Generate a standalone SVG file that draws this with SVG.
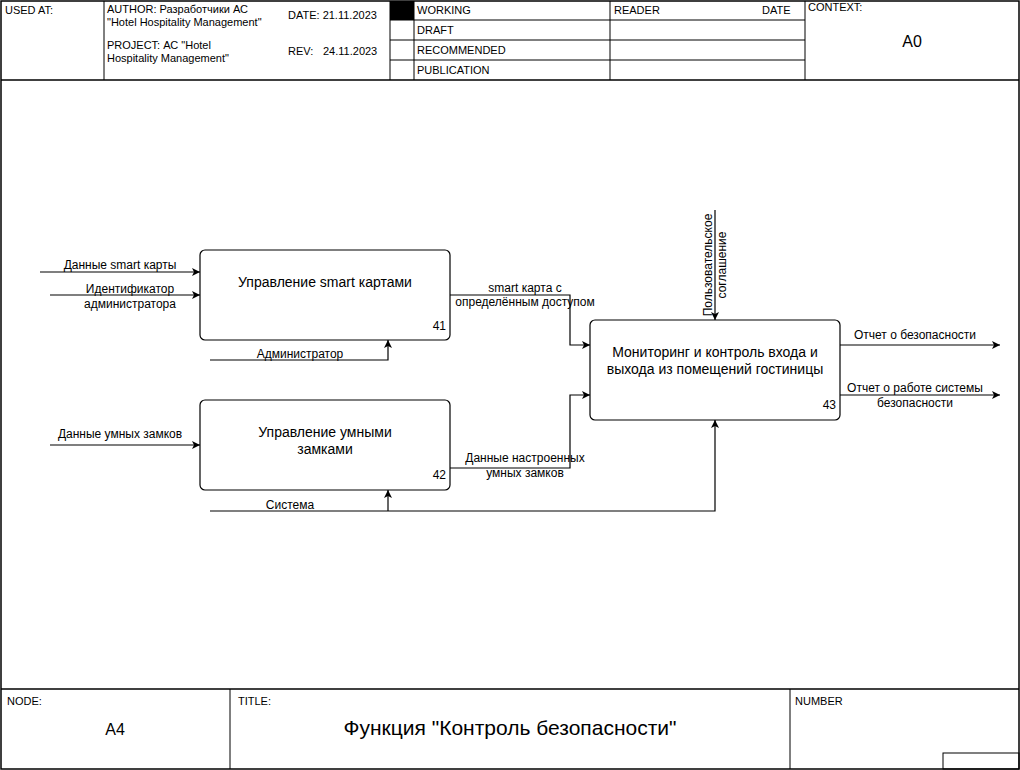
<svg xmlns="http://www.w3.org/2000/svg" width="1020" height="770" viewBox="0 0 1020 770">
<defs>
<marker id="ah" markerWidth="10" markerHeight="10" refX="9" refY="5" orient="auto" markerUnits="userSpaceOnUse">
<path d="M1,1 L9,5 L1,9 L3,5 Z" fill="#000"/>
</marker>
<style>
text{font-family:"Liberation Sans",Arial,sans-serif;fill:#000}
.h{font-size:11px}
.l{font-size:12px;text-anchor:middle}
.b{font-size:14px;text-anchor:middle}
.n{font-size:12px;text-anchor:end}
.frame{fill:none;stroke:#000;stroke-width:1.5}
.ln{stroke:#000;stroke-width:1;fill:none}
.box{fill:#fff;stroke:#000;stroke-width:1.2}
.c{fill:none;stroke:#000;stroke-width:1.2}
</style>
</defs>
<rect x="0" y="0" width="1020" height="770" fill="#fff"/>
<g id="frame">
<rect class="frame" x="1" y="1" width="1018" height="768"/>
<line class="frame" x1="1" y1="80" x2="1019" y2="80"/>
<line class="frame" x1="1" y1="689" x2="1019" y2="689"/>
<line class="ln" x1="104" y1="1" x2="104" y2="80"/>
<line class="ln" x1="390" y1="1" x2="390" y2="80"/>
<line class="ln" x1="414" y1="1" x2="414" y2="80"/>
<line class="ln" x1="610" y1="1" x2="610" y2="80"/>
<line class="ln" x1="805" y1="1" x2="805" y2="80"/>
<line class="ln" x1="390" y1="20" x2="805" y2="20"/>
<line class="ln" x1="390" y1="40" x2="805" y2="40"/>
<line class="ln" x1="390" y1="60" x2="805" y2="60"/>
<rect x="390" y="1" width="24" height="19" fill="#000"/>
<text class="h" x="5" y="14">USED AT:</text>
<text class="h" x="107" y="13">AUTHOR: Разработчики АС</text>
<text class="h" x="107" y="26">"Hotel Hospitality Management"</text>
<text class="h" x="288" y="19">DATE: 21.11.2023</text>
<text class="h" x="107" y="49">PROJECT: АС "Hotel</text>
<text class="h" x="107" y="62">Hospitality Management"</text>
<text class="h" x="288" y="55">REV:</text>
<text class="h" x="323" y="55">24.11.2023</text>
<text class="h" x="417" y="14">WORKING</text>
<text class="h" x="417" y="34">DRAFT</text>
<text class="h" x="417" y="54">RECOMMENDED</text>
<text class="h" x="417" y="74">PUBLICATION</text>
<text class="h" x="614" y="14">READER</text>
<text class="h" x="762" y="14">DATE</text>
<text class="h" x="808" y="11">CONTEXT:</text>
<text x="912" y="47" font-size="16" text-anchor="middle">A0</text>
<line class="ln" x1="230" y1="689" x2="230" y2="769"/>
<line class="ln" x1="790" y1="689" x2="790" y2="769"/>
<rect class="ln" x="943" y="753" width="76" height="16"/>
<text class="h" x="7" y="705">NODE:</text>
<text x="115" y="735" font-size="16" text-anchor="middle">A4</text>
<text class="h" x="238" y="705">TITLE:</text>
<text x="510" y="735" font-size="21" text-anchor="middle">Функция "Контроль безопасности"</text>
<text class="h" x="795" y="705">NUMBER</text>
</g>
<g id="connectors">
<path class="c" d="M40,272 H200" marker-end="url(#ah)"/>
<path class="c" d="M50,295 H200" marker-end="url(#ah)"/>
<path class="c" d="M210,360 H388 V340" marker-end="url(#ah)"/>
<path class="c" d="M450,295 H570 V345 H590" marker-end="url(#ah)"/>
<path class="c" d="M715,210 V320" marker-end="url(#ah)"/>
<path class="c" d="M840,345 H1000" marker-end="url(#ah)"/>
<path class="c" d="M840,395 H1000" marker-end="url(#ah)"/>
<path class="c" d="M50,445 H200" marker-end="url(#ah)"/>
<path class="c" d="M450,468 H570 V395 H590" marker-end="url(#ah)"/>
<path class="c" d="M210,511 H715 V420" marker-end="url(#ah)"/>
<path class="c" d="M388,511 V490" marker-end="url(#ah)"/>
<text class="l" x="120" y="269">Данные smart карты</text>
<text class="l" x="130" y="293">Идентификатор</text>
<text class="l" x="130" y="308">администратора</text>
<text class="l" x="300" y="358">Администратор</text>
<text class="l" x="525" y="292">smart карта с</text>
<text class="l" x="525" y="306">определённым доступом</text>
<text class="l" transform="translate(712,265) rotate(-90)">Пользовательское</text>
<text class="l" transform="translate(726,265) rotate(-90)">соглашение</text>
<text class="l" x="915" y="339">Отчет о безопасности</text>
<text class="l" x="915" y="392">Отчет о работе системы</text>
<text class="l" x="915" y="407">безопасности</text>
<text class="l" x="120" y="438">Данные умных замков</text>
<text class="l" x="525" y="462">Данные настроенных</text>
<text class="l" x="525" y="477">умных замков</text>
<text class="l" x="290" y="509">Система</text>
</g>
<g id="node41">
<rect class="box" x="200" y="250" width="250" height="90" rx="5"/>
<text class="b" x="325" y="287">Управление smart картами</text>
<text class="n" x="446" y="330">41</text>
</g>
<g id="node42">
<rect class="box" x="200" y="400" width="250" height="90" rx="5"/>
<text class="b" x="325" y="437">Управление умными</text>
<text class="b" x="325" y="454">замками</text>
<text class="n" x="446" y="479">42</text>
</g>
<g id="node43">
<rect class="box" x="590" y="320" width="250" height="100" rx="5"/>
<text class="b" x="715" y="357">Мониторинг и контроль входа и</text>
<text class="b" x="715" y="374">выхода из помещений гостиницы</text>
<text class="n" x="836" y="409">43</text>
</g>
</svg>
